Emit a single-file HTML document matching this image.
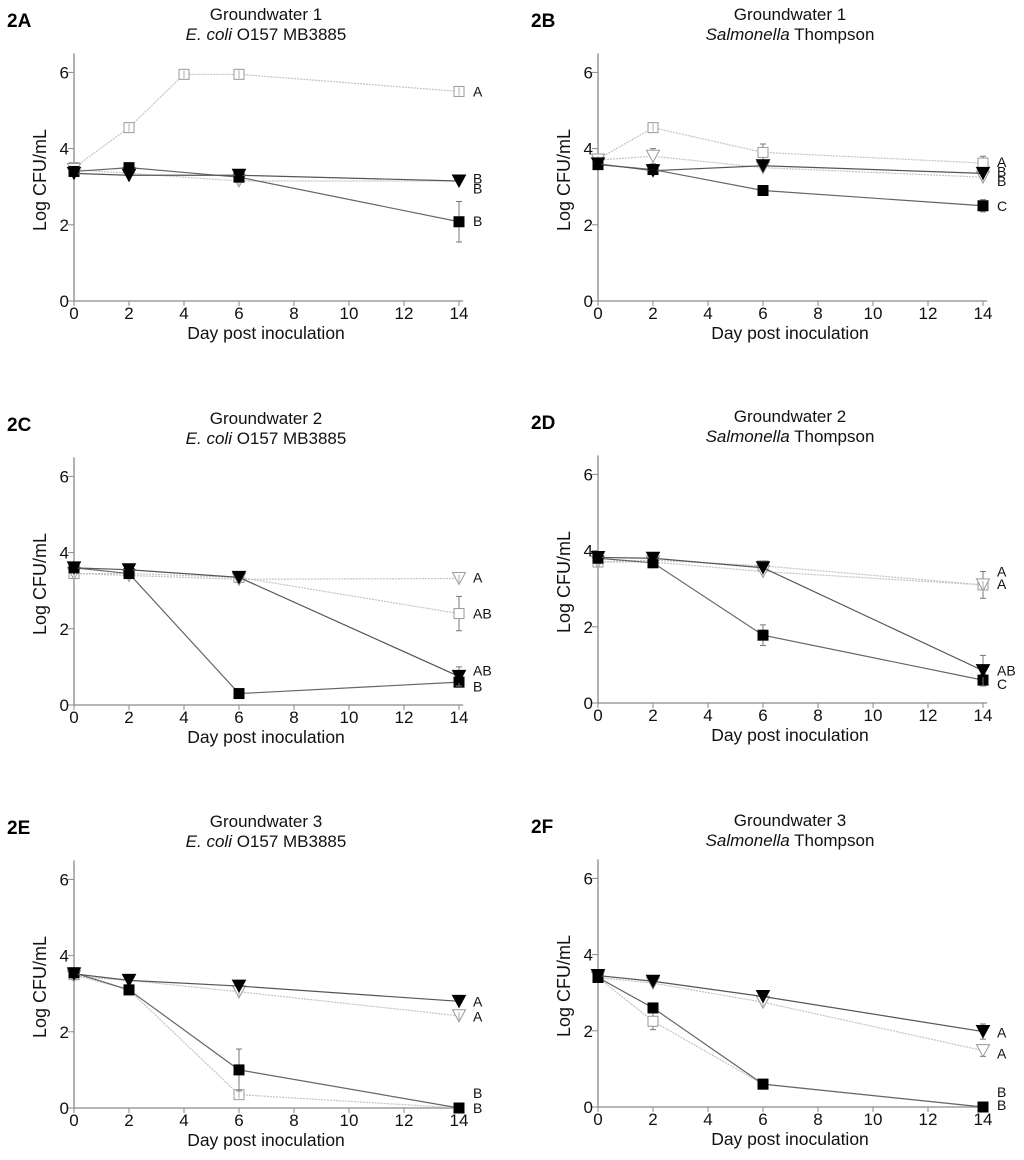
<!DOCTYPE html>
<html><head><meta charset="utf-8">
<style>
html,body{margin:0;padding:0;background:#fff;}
svg{display:block;font-family:"Liberation Sans",Arial,sans-serif;}
</style></head>
<body>
<svg id="fig" width="1024" height="1160" viewBox="0 0 1024 1160" xmlns="http://www.w3.org/2000/svg"></svg>
<script>
// ---- data ----
const dayTicks = [0,2,4,6,8,10,12,14];
const logTicks = [0,2,4,6];
const panelIds = ["2A","2B","2C","2D","2E","2F"];
const panelTitles1 = ["Groundwater 1","Groundwater 1","Groundwater 2","Groundwater 2","Groundwater 3","Groundwater 3"];
const panelOrganisms = ["ecoli","salm","ecoli","salm","ecoli","salm"];
const daysOpenSqA = [0,2,4,6,14];
const daysStd = [0,2,6,14];
// values per panel: open square, open triangle, filled square, filled triangle
const openSq = [
  [3.5,4.55,5.95,5.95,5.5],
  [3.72,4.55,3.9,3.62],
  [3.45,3.45,3.35,2.4],
  [3.7,3.75,3.6,3.1],
  [3.5,3.1,0.35,0.0],
  [3.4,2.25,0.6,0.0]
];
const openSqErr = [
  [0.05,0.07,0.05,0.07,0.05],
  [0.05,0.07,0.22,0.18],
  [0.05,0.05,0.05,0.45],
  [0.05,0.05,0.08,0.35],
  [0.05,0.05,0.05,0.05],
  [0.05,0.22,0.05,0.05]
];
const openTri = [
  [3.45,3.35,3.15,3.15],
  [3.7,3.8,3.5,3.25],
  [3.45,3.4,3.3,3.32],
  [3.7,3.7,3.45,3.1],
  [3.45,3.35,3.05,2.42],
  [3.4,3.25,2.75,1.48]
];
const openTriErr = [
  [0.05,0.05,0.05,0.05],
  [0.05,0.2,0.05,0.05],
  [0.05,0.05,0.05,0.05],
  [0.05,0.05,0.05,0.05],
  [0.05,0.05,0.05,0.05],
  [0.05,0.05,0.05,0.15]
];
const fillSq = [
  [3.4,3.5,3.25,2.08],
  [3.58,3.45,2.9,2.5],
  [3.6,3.45,0.3,0.6],
  [3.8,3.68,1.78,0.6],
  [3.55,3.1,1.0,0.0],
  [3.4,2.6,0.6,0.0]
];
const fillSqErr = [
  [0.05,0.05,0.05,0.53],
  [0.05,0.05,0.05,0.16],
  [0.05,0.05,0.05,0.05],
  [0.05,0.05,0.27,0.15],
  [0.05,0.05,0.55,0.05],
  [0.05,0.05,0.05,0.05]
];
const fillTri = [
  [3.35,3.3,3.3,3.15],
  [3.6,3.42,3.55,3.35],
  [3.6,3.55,3.35,0.75],
  [3.82,3.8,3.55,0.85],
  [3.52,3.35,3.2,2.8],
  [3.45,3.3,2.9,1.98]
];
const fillTriErr = [
  [0.05,0.05,0.05,0.05],
  [0.05,0.05,0.05,0.05],
  [0.05,0.05,0.05,0.25],
  [0.05,0.05,0.05,0.4],
  [0.05,0.05,0.05,0.05],
  [0.05,0.05,0.05,0.2]
];
const sigLetters = [
  ["A","B","B","B"],
  ["A","B","B","C"],
  ["A","AB","AB","B"],
  ["A","A","AB","C"],
  ["A","A","B","B"],
  ["A","A","B","B"]
];
const sigLetterY = [
  [5.5,3.22,2.95,2.1],
  [3.65,3.4,3.15,2.5],
  [3.35,2.4,0.9,0.48],
  [3.45,3.12,0.85,0.5],
  [2.8,2.4,0.4,0.0],
  [1.95,1.4,0.4,0.05]
];
// ---- layout ----
const panelOrigins = [[74,301],[598,301],[74,705],[598,703],[74,1108],[598,1107]];
const PX_DAY = 27.5, PX_LOG = 38.1;
const NS = "http://www.w3.org/2000/svg";
const svg = document.getElementById("fig");
function mk(tag, attrs, parent){
  const e = document.createElementNS(NS, tag);
  for (const k in attrs) e.setAttribute(k, attrs[k]);
  (parent||svg).appendChild(e);
  return e;
}
panelIds.forEach((pid, p) => {
  const [ox, oy] = panelOrigins[p];
  const xs = d => ox + d * PX_DAY;
  const ys = v => oy - v * PX_LOG;
  const g = mk("g", {});
  
  
  const top = oy - 301;
  const lab = mk("text", {x: ox - 67, y: top + 27, "font-size": 19, "font-weight": "bold", fill: "#000"}, g);
  lab.textContent = pid;
  
  
  const cx = ox + 192;
  const t1 = mk("text", {x: cx, y: top + 20, "font-size": 17, "text-anchor": "middle", fill: "#111"}, g);
  t1.textContent = panelTitles1[p];
  
  
  const t2 = mk("text", {x: cx, y: top + 40, "font-size": 17, "text-anchor": "middle", fill: "#111"}, g);
  if (panelOrganisms[p] === "ecoli") {
    t2.innerHTML = '<tspan font-style="italic">E. coli</tspan> O157 MB3885';
  } else {
    t2.innerHTML = '<tspan font-style="italic">Salmonella</tspan> Thompson';
  }
  
  
  const axc = "#8a8a8a";
  const ya = mk("line", {x1: ox, y1: ys(6.5), x2: ox, y2: oy, stroke: axc, "stroke-width": 1.3}, g);
  
  
  const xa = mk("line", {x1: ox, y1: oy, x2: xs(14.15), y2: oy, stroke: axc, "stroke-width": 1.3}, g);
  
  
  logTicks.forEach(v => {
    const tk = mk("line", {x1: ox - 6, y1: ys(v), x2: ox, y2: ys(v), stroke: axc, "stroke-width": 1}, g);
    
    
    const tl = mk("text", {x: ox - 5, y: ys(v) + 6, "font-size": 17, "text-anchor": "end", fill: "#111"}, g);
    tl.textContent = v;
    
    
  });
  dayTicks.forEach(d => {
    const tk = mk("line", {x1: xs(d), y1: oy, x2: xs(d), y2: oy + 5, stroke: axc, "stroke-width": 1}, g);
    
    
    const tl = mk("text", {x: xs(d), y: oy + 18, "font-size": 17, "text-anchor": "middle", fill: "#111"}, g);
    tl.textContent = d;
    
    
  });
  const xt = mk("text", {x: cx, y: oy + 38, "font-size": 17.5, "text-anchor": "middle", fill: "#111"}, g);
  xt.textContent = "Day post inoculation";
  
  
  const yty = oy - 121;
  const yt = mk("text", {x: ox - 28, y: yty, "font-size": 18, "text-anchor": "middle", fill: "#111", transform: `rotate(-90 ${ox-28} ${yty})`}, g);
  yt.textContent = "Log CFU/mL";
  
  
  const series = [
    {name: "open-square", vals: openSq[p], err: openSqErr[p], days: p === 0 ? daysOpenSqA : daysStd, line: "#c4c4c4", dash: "2,1", mark: "sq", fill: "#fff", stroke: "#999"},
    {name: "open-triangle", vals: openTri[p], err: openTriErr[p], days: daysStd, line: "#c4c4c4", dash: "2,1", mark: "tri", fill: "#fff", stroke: "#999"},
    {name: "filled-square", vals: fillSq[p], err: fillSqErr[p], days: daysStd, line: "#666", dash: "", mark: "sq", fill: "#000", stroke: "#000"},
    {name: "filled-triangle", vals: fillTri[p], err: fillTriErr[p], days: daysStd, line: "#555", dash: "", mark: "tri", fill: "#000", stroke: "#000"}
  ];
  series.forEach(s => {
    const sg = mk("g", {}, g);
    
    
    const pts = s.days.map((d, i) => xs(d) + "," + ys(s.vals[i])).join(" ");
    const pl = mk("polyline", {points: pts, fill: "none", stroke: s.line, "stroke-width": 1.2, "stroke-dasharray": s.dash}, sg);
    
    
    s.days.forEach((d, i) => {
      const x = xs(d), y = ys(s.vals[i]), e = s.err[i] * PX_LOG;
      if (e > 3) {
        const eb = mk("path", {d: `M${x},${y-e}V${y+e}M${x-3},${y-e}H${x+3}M${x-3},${y+e}H${x+3}`, stroke: "#777", "stroke-width": 1, fill: "none"}, sg);
        
        
      }
      let m;
      if (s.mark === "sq") {
        m = mk("rect", {x: x - 5, y: y - 5, width: 10, height: 10, fill: s.fill, stroke: s.stroke, "stroke-width": 1}, sg);
      } else {
        m = mk("polygon", {points: `${x-6.5},${y-6} ${x+6.5},${y-6} ${x},${y+6}`, fill: s.fill, stroke: s.stroke, "stroke-width": 1}, sg);
      }
      
      
      if (s.fill === "#fff" && e <= 3) {
        const il = mk("line", {x1: x, y1: y - 4, x2: x, y2: y + 4, stroke: "#999", "stroke-width": 0.8}, sg);
        
        
      }
    });
  });
  sigLetters[p].forEach((L, i) => {
    const lt = mk("text", {x: xs(14) + 14, y: ys(sigLetterY[p][i]) + 5, "font-size": 14, fill: "#111"}, g);
    lt.textContent = L;
    
    
  });
});
</script>
</body></html>
